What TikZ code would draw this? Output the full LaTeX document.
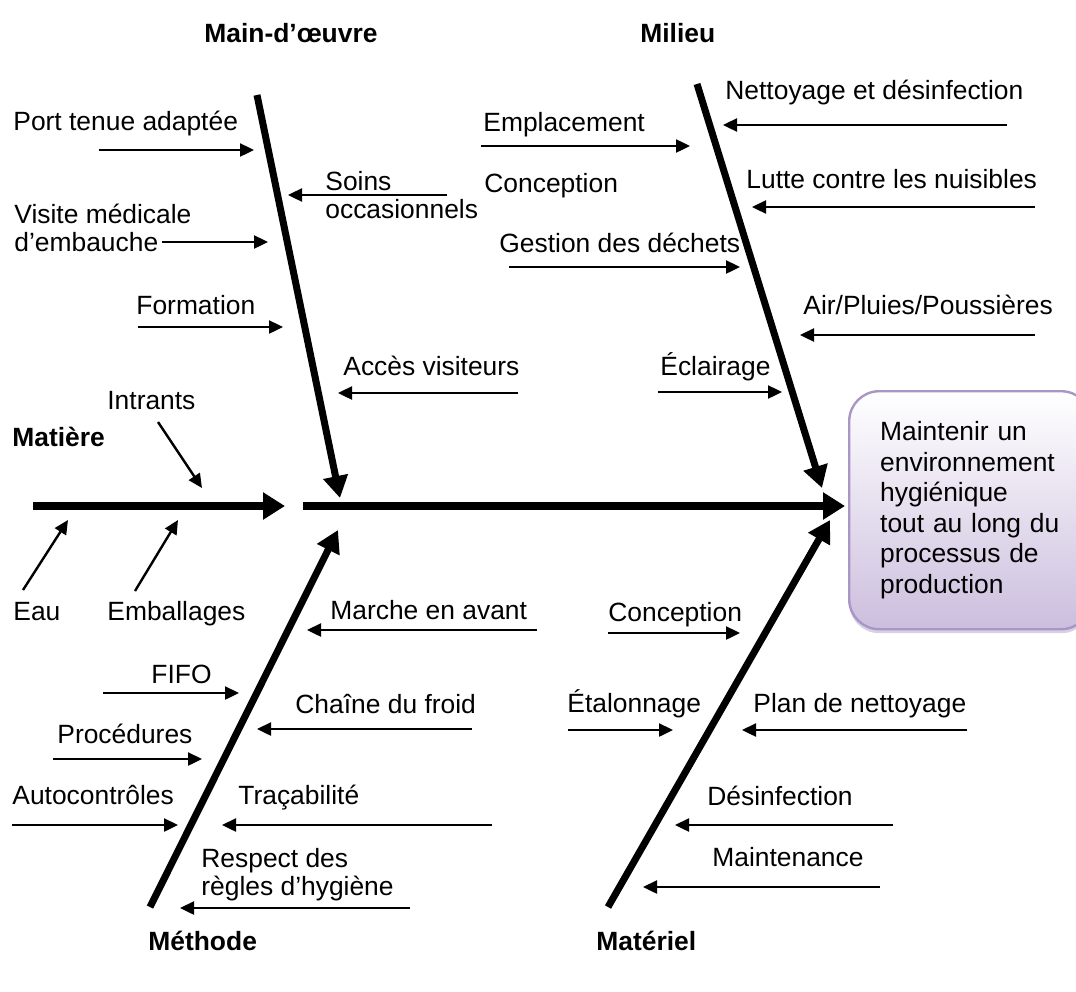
\documentclass[tikz,border=0pt]{standalone}
\usepackage{fontspec}
\setmainfont{Liberation Sans}
\usetikzlibrary{arrows.meta,positioning,shadows}
\definecolor{goalfill}{RGB}{204,190,222}
\definecolor{goaledge}{RGB}{168,150,196}
\newcommand{\causefont}{\fontsize{13.2}{14}\selectfont}
\tikzstyle{spine} = [line width=4pt, -{Triangle[length=11pt,width=13pt]}]
\tikzstyle{bone} = [line width=3.5pt, -{Triangle[length=11pt,width=12pt]}]
\tikzstyle{twig} = [line width=1.2pt, -{Triangle[length=7pt,width=6.5pt]}]
\tikzstyle{cause} = [inner sep=0pt, anchor=base west, font=\causefont]
\tikzstyle{causetwo} = [inner sep=0pt, anchor=north west, font=\causefont, align=left]
\tikzstyle{category} = [inner sep=0pt, anchor=base west, font=\causefont\bfseries]
\tikzstyle{goalbox} = [draw=goaledge, line width=1.2pt, rounded corners=15pt, top color=white, bottom color=goalfill,
  drop shadow={opacity=0.45, fill=goaledge, shadow xshift=0pt, shadow yshift=-2pt},
  text width=90pt, inner xsep=15.5pt, minimum height=119pt, align=left, font=\fontsize{13.2}{15.25}\selectfont]

\begin{document}
\begin{tikzpicture}[x=0.5pt,y=-0.5pt]
\useasboundingbox (0,0) rectangle (1076,991);
\clip (0,0) rectangle (1076,991);

% effet
\node[goalbox, anchor=north west] (goal) at (848,390)
  {Maintenir un\\environnement\\hygiénique\\tout au long du\\processus de\\production};

% grandes aretes
\coordinate (spine-s) at (303,506);
\coordinate (spine-e) at (845,506);
\coordinate (mat-s) at (33,506);
\coordinate (mat-e) at (285,506);
\coordinate (mo-s) at (257,95);
\coordinate (mo-e) at (340,498);
\coordinate (mil-s) at (697,84);
\coordinate (mil-e) at (822,488);
\coordinate (meth-s) at (150,907);
\coordinate (meth-e) at (338,530);
\coordinate (matl-s) at (608,907);
\coordinate (matl-e) at (830,520);
\draw[spine] (spine-s) -- (spine-e);
\draw[spine] (mat-s) -- (mat-e);
\draw[bone] (mo-s) -- (mo-e);
\draw[bone] (mil-s) -- (mil-e);
\draw[bone] (meth-s) -- (meth-e);
\draw[bone] (matl-s) -- (matl-e);

% categories
\node[category] (mainoeuvre) at (204,42) {Main-d’œuvre};
\node[category] (milieu) at (640,42) {Milieu};
\node[category] (matiere) at (12,446) {Matière};
\node[category] (methode) at (148,950) {Méthode};
\node[category] (materiel) at (596,950) {Matériel};

% Main-d'oeuvre
\node[cause] (port) at (13,130) {Port tenue adaptée};
\node[causetwo] (visite) at (14,203.5) {Visite médicale\\d’embauche};
\node[cause] (formation) at (136,314) {Formation};
\node[causetwo] (soins) at (325,170.5) {Soins\\occasionnels};
\node[cause] (visiteurs) at (343,375) {Accès visiteurs};
\coordinate (port-s) at (99,150);      \coordinate (port-e) at (254,150);
\coordinate (visite-s) at (162,242);   \coordinate (visite-e) at (268,242);
\coordinate (formation-s) at (138,327); \coordinate (formation-e) at (283,327);
\coordinate (soins-s) at (447,195);    \coordinate (soins-e) at (288,195);
\coordinate (visiteurs-s) at (518,393); \coordinate (visiteurs-e) at (338,393);
\draw[twig] (port-s) -- (port-e);
\draw[twig] (visite-s) -- (visite-e);
\draw[twig] (formation-s) -- (formation-e);
\draw[twig] (soins-s) -- (soins-e);
\draw[twig] (visiteurs-s) -- (visiteurs-e);

% Milieu
\node[cause] (emplacement) at (483,131) {Emplacement};
\node[cause] (conception) at (484,192) {Conception};
\node[cause] (dechets) at (499,252) {Gestion des déchets};
\node[cause] (eclairage) at (660,375) {Éclairage};
\node[cause] (nettoyage) at (725,99) {Nettoyage et désinfection};
\node[cause] (nuisibles) at (746,188) {Lutte contre les nuisibles};
\node[cause] (air) at (803,314) {Air/Pluies/Poussières};
\coordinate (emplacement-s) at (481,146); \coordinate (emplacement-e) at (690,146);
\coordinate (dechets-s) at (509,267);     \coordinate (dechets-e) at (740,267);
\coordinate (eclairage-s) at (658,392);   \coordinate (eclairage-e) at (782,392);
\coordinate (nettoyage-s) at (1007,125);  \coordinate (nettoyage-e) at (723,125);
\coordinate (nuisibles-s) at (1035,207);  \coordinate (nuisibles-e) at (752,207);
\coordinate (air-s) at (1035,335);        \coordinate (air-e) at (800,335);
\draw[twig] (emplacement-s) -- (emplacement-e);
\draw[twig] (dechets-s) -- (dechets-e);
\draw[twig] (eclairage-s) -- (eclairage-e);
\draw[twig] (nettoyage-s) -- (nettoyage-e);
\draw[twig] (nuisibles-s) -- (nuisibles-e);
\draw[twig] (air-s) -- (air-e);

% Matiere
\node[cause] (intrants) at (107,409) {Intrants};
\node[cause] (eau) at (13,620) {Eau};
\node[cause] (emballages) at (107,620) {Emballages};
\coordinate (intrants-s) at (158,422);  \coordinate (intrants-e) at (202,488);
\coordinate (eau-s) at (23,590);        \coordinate (eau-e) at (68,520);
\coordinate (emballages-s) at (135,591); \coordinate (emballages-e) at (178,520);
\draw[twig] (intrants-s) -- (intrants-e);
\draw[twig] (eau-s) -- (eau-e);
\draw[twig] (emballages-s) -- (emballages-e);

% Methode
\node[cause] (fifo) at (151,683) {FIFO};
\node[cause] (procedures) at (57,743) {Procédures};
\node[cause] (autocontroles) at (12,804) {Autocontrôles};
\node[cause] (marche) at (330,619) {Marche en avant};
\node[cause] (froid) at (295,713) {Chaîne du froid};
\node[cause] (tracabilite) at (238,804) {Traçabilité};
\node[causetwo] (hygiene) at (201,847.5) {Respect des\\règles d’hygiène};
\coordinate (fifo-s) at (103,693);          \coordinate (fifo-e) at (239,693);
\coordinate (procedures-s) at (53,759);     \coordinate (procedures-e) at (202,759);
\coordinate (autocontroles-s) at (12,825);  \coordinate (autocontroles-e) at (178,825);
\coordinate (marche-s) at (537,630);        \coordinate (marche-e) at (307,630);
\coordinate (froid-s) at (472,729);         \coordinate (froid-e) at (257,729);
\coordinate (tracabilite-s) at (492,825);   \coordinate (tracabilite-e) at (222,825);
\coordinate (hygiene-s) at (410,908);       \coordinate (hygiene-e) at (180,908);
\draw[twig] (fifo-s) -- (fifo-e);
\draw[twig] (procedures-s) -- (procedures-e);
\draw[twig] (autocontroles-s) -- (autocontroles-e);
\draw[twig] (marche-s) -- (marche-e);
\draw[twig] (froid-s) -- (froid-e);
\draw[twig] (tracabilite-s) -- (tracabilite-e);
\draw[twig] (hygiene-s) -- (hygiene-e);

% Materiel
\node[cause] (concmat) at (608,621) {Conception};
\node[cause] (etalonnage) at (567,712) {Étalonnage};
\node[cause] (plan) at (753,712) {Plan de nettoyage};
\node[cause] (desinfection) at (707,805) {Désinfection};
\node[cause] (maintenance) at (712,866) {Maintenance};
\coordinate (concmat-s) at (608,633);      \coordinate (concmat-e) at (740,633);
\coordinate (etalonnage-s) at (568,730);   \coordinate (etalonnage-e) at (673,730);
\coordinate (plan-s) at (967,730);         \coordinate (plan-e) at (742,730);
\coordinate (desinfection-s) at (893,825); \coordinate (desinfection-e) at (675,825);
\coordinate (maintenance-s) at (880,887);  \coordinate (maintenance-e) at (643,887);
\draw[twig] (concmat-s) -- (concmat-e);
\draw[twig] (etalonnage-s) -- (etalonnage-e);
\draw[twig] (plan-s) -- (plan-e);
\draw[twig] (desinfection-s) -- (desinfection-e);
\draw[twig] (maintenance-s) -- (maintenance-e);
\end{tikzpicture}
\end{document}
